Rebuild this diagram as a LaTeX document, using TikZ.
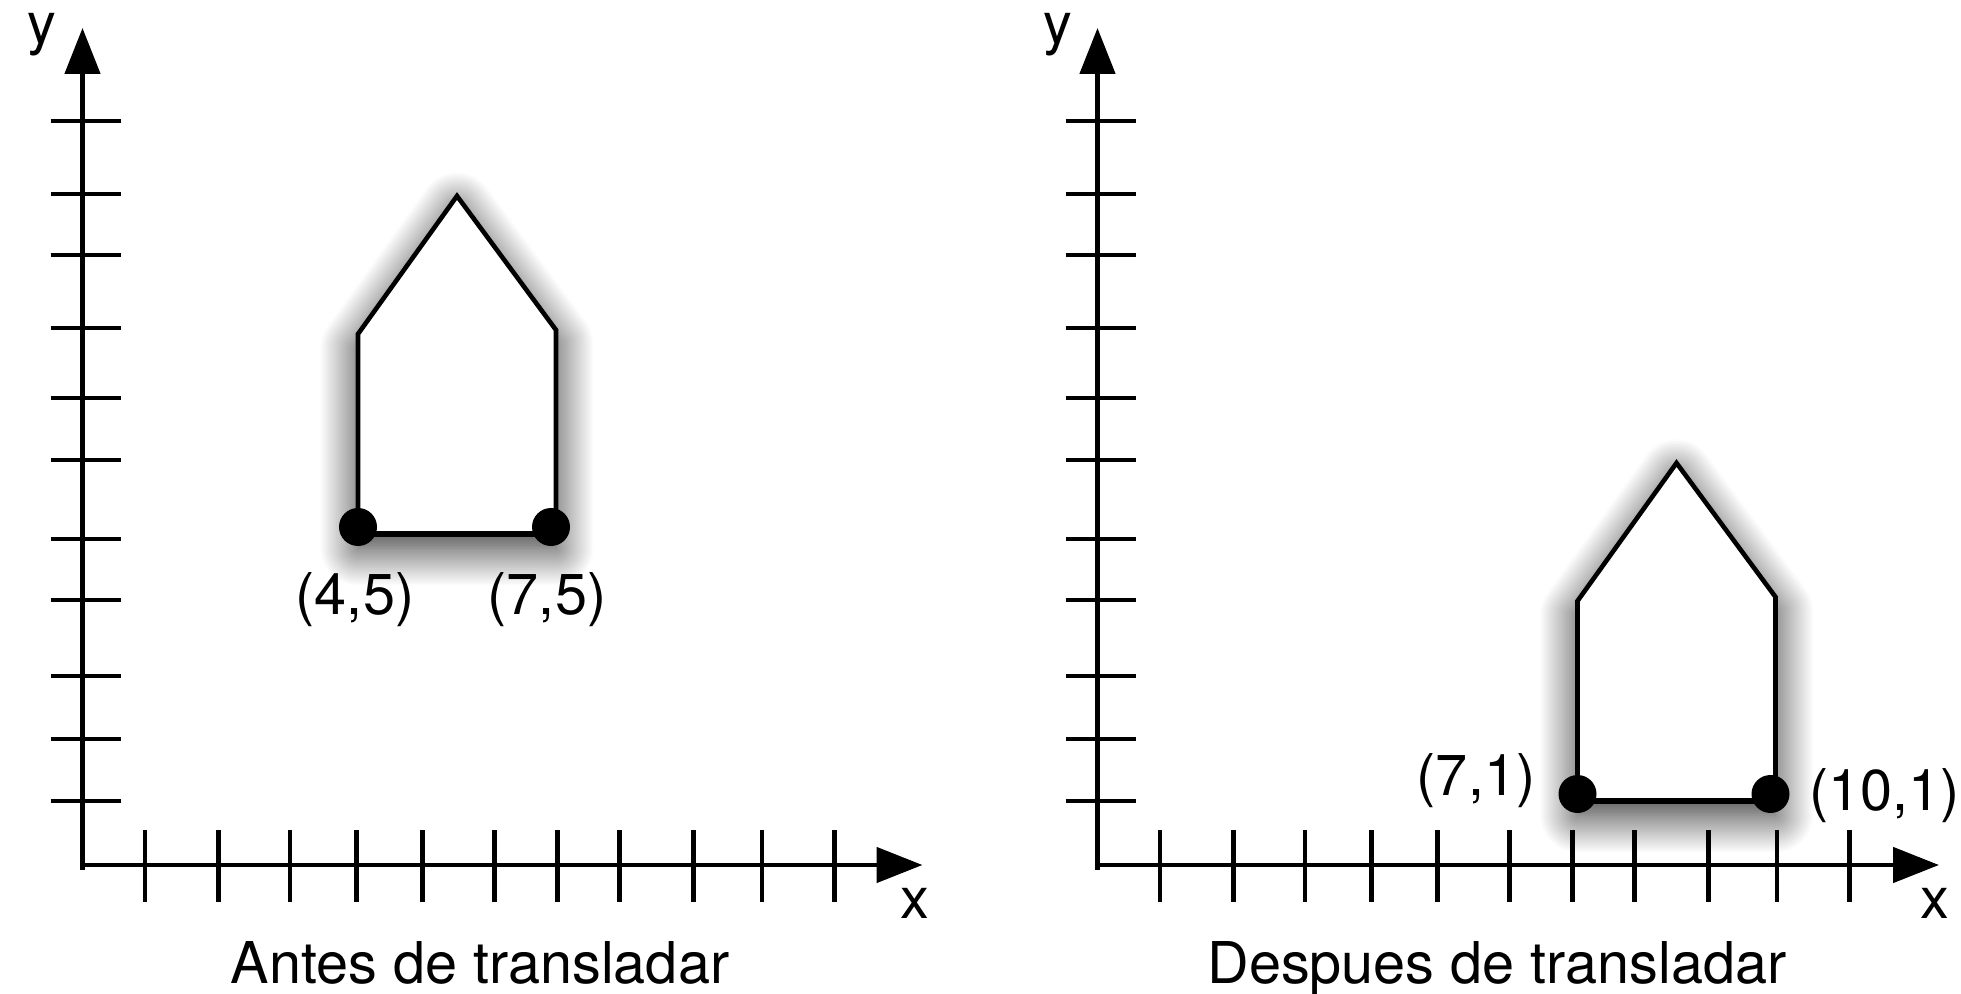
\documentclass[tikz,border=0pt]{standalone}
\usepackage{fontspec}
\setmainfont{TeX Gyre Heros}
\usetikzlibrary{arrows.meta,shadows.blur}
\begin{document}
\begin{tikzpicture}[x=0.5pt,y=-0.5pt,
  axisline/.style={line width=2.4pt, -{Triangle[length=23pt,width=17.5pt]}},
  tickline/.style={line width=2.3pt},
  houseline/.style={line width=2.3pt, line join=miter, fill=white,
    blur shadow={shadow xshift=0pt, shadow yshift=-7pt, shadow blur radius=19pt, shadow opacity=85, shadow blur steps=24}},
  baseline/.style={line width=3.4pt},
  dotnode/.style={circle, fill=black, inner sep=0pt, minimum size=19pt},
  lbl/.style={font=\fontsize{28.8}{34}\selectfont, inner sep=0pt, anchor=base},
]
\useasboundingbox (0,0) rectangle (1961,994);

% ---------- left panel ----------
\begin{scope}[shift={(82.5,865)}]
  \coordinate (LO) at (0,0);
  \coordinate (LY) at (0,-837);
  \coordinate (LX) at (840,0);
  \coordinate (LYb) at (0,5);
  \foreach \t in {64,126,189,265,326,405,467,537,610,671,744}
    \draw[tickline] (-32,-\t) -- (38,-\t);
  \foreach \t in {62.5,135.75,207.5,274.25,340,411.75,475,537,610.75,679.5,752}
    \draw[tickline] (\t,-35) -- (\t,37);
  \draw[axisline] (LYb) -- (LY);
  \draw[axisline] (LO) -- (LX);
  \begin{scope}[shift={(275.5,-331)}]
    \coordinate (LA) at (0,0);
    \coordinate (LB) at (0,-200);
    \coordinate (LC) at (99,-338);
    \coordinate (LD) at (198,-204);
    \coordinate (LE) at (198,0);
    \draw[houseline] (LA) -- (LB) -- (LC) -- (LD) -- (LE) -- cycle;
    \draw[baseline] (LA) -- (LE);
    \node[dotnode] (L45) at (0,-7) {};
    \node[dotnode] (L75) at (193,-7) {};
  \end{scope}
  \node[lbl] (tL45) at (272.5,-250) {(4,5)};
  \node[lbl] (tL75) at (464.5,-250) {(7,5)};
  \node[lbl] (yL) at (-40.5,-821) {y};
  \node[lbl] (xL) at (832.5,53) {x};
  \node[lbl] (titL) at (397.5,118) {Antes de transladar};
\end{scope}

% ---------- right panel ----------
\begin{scope}[shift={(1097.5,865)}]
  \coordinate (RO) at (0,0);
  \coordinate (RY) at (0,-837);
  \coordinate (RX) at (841.5,0);
  \coordinate (RYb) at (0,5);
  \foreach \t in {64,126,189,265,326,405,467,537,610,671,744}
    \draw[tickline] (-32,-\t) -- (38,-\t);
  \foreach \t in {62.5,135.75,207.5,274.25,340,411.75,475,537,610.75,679.5,752}
    \draw[tickline] (\t,-35) -- (\t,37);
  \draw[axisline] (RYb) -- (RY);
  \draw[axisline] (RO) -- (RX);
  \begin{scope}[shift={(480,-64)}]
    \coordinate (RA) at (0,0);
    \coordinate (RB) at (0,-200);
    \coordinate (RC) at (99,-338);
    \coordinate (RD) at (198,-204);
    \coordinate (RE) at (198,0);
    \draw[houseline] (RA) -- (RB) -- (RC) -- (RD) -- (RE) -- cycle;
    \draw[baseline] (RA) -- (RE);
    \node[dotnode] (R71) at (0,-7) {};
    \node[dotnode] (R101) at (193,-7) {};
  \end{scope}
  \node[lbl] (tR71) at (378.5,-70) {(7,1)};
  \node[lbl] (tR101) at (787,-55) {(10,1)};
  \node[lbl] (yR) at (-39.5,-821) {y};
  \node[lbl] (xR) at (837.5,53) {x};
  \node[lbl] (titR) at (399.5,118) {Despues de transladar};
\end{scope}
\end{tikzpicture}
\end{document}
